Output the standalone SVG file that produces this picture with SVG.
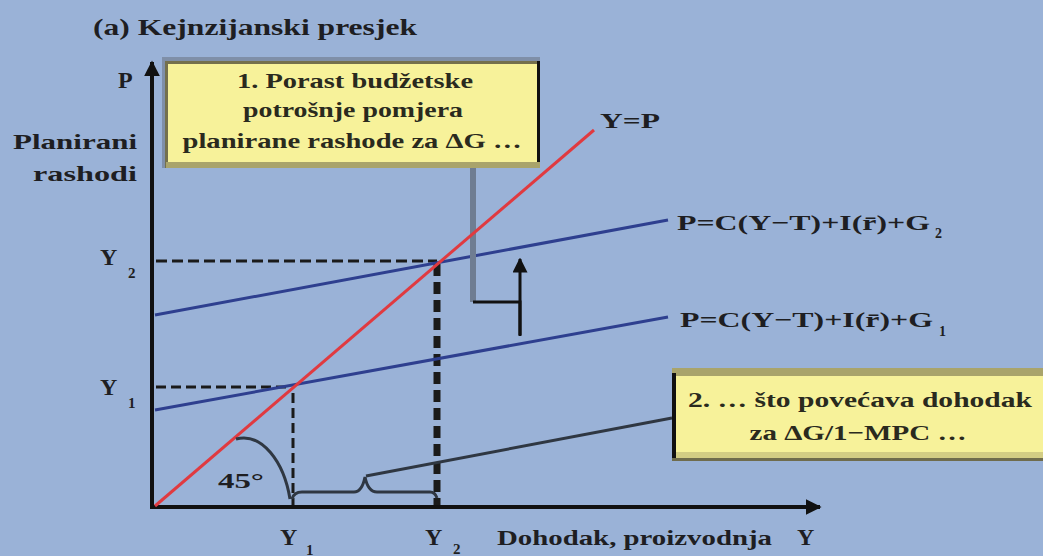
<svg xmlns="http://www.w3.org/2000/svg" width="1043" height="556" viewBox="0 0 1043 556">
<defs>
<style>
.t{font-family:"Liberation Serif","Times New Roman",serif;font-weight:bold;fill:#1e1e22}
.b{font-family:"Liberation Serif","Times New Roman",serif;font-weight:bold;fill:#2a2a1e}
.dash{stroke:#1a1a1a;fill:none}
.ax{stroke:#111;stroke-width:4;fill:none}
</style>
<marker id="ah" viewBox="0 0 10 10" refX="9" refY="5" markerWidth="4" markerHeight="4" orient="auto" markerUnits="strokeWidth">
<path d="M0,0 L10,5 L0,10 Z" fill="#111"/>
</marker>
<marker id="ah2" viewBox="0 0 10 10" refX="9" refY="5" markerWidth="5" markerHeight="5" orient="auto" markerUnits="strokeWidth">
<path d="M0,0 L10,5 L0,10 Z" fill="#111"/>
</marker>
</defs>
<rect width="1043" height="556" fill="#9ab2d7"/>

<g id="title">
<text class="t" x="93" y="35" font-size="24" textLength="324" lengthAdjust="spacingAndGlyphs">(a) Kejnzijanski presjek</text>
</g>

<g id="axes">
<line class="ax" x1="152" y1="508" x2="152" y2="62" marker-end="url(#ah)"/>
<line class="ax" x1="150" y1="507" x2="820" y2="507" marker-end="url(#ah)"/>
<text class="t" x="118" y="88" font-size="24">P</text>
<text class="t" x="13" y="149" font-size="22" textLength="124" lengthAdjust="spacingAndGlyphs">Planirani</text>
<text class="t" x="33" y="181" font-size="22" textLength="104" lengthAdjust="spacingAndGlyphs">rashodi</text>
<text class="t" x="100" y="265" font-size="24">Y</text><text class="t" x="128" y="278" font-size="15">2</text>
<text class="t" x="100" y="395" font-size="24">Y</text><text class="t" x="128" y="408" font-size="15">1</text>
<text class="t" x="280" y="545" font-size="24">Y</text><text class="t" x="306" y="555" font-size="15">1</text>
<text class="t" x="425" y="545" font-size="24">Y</text><text class="t" x="453" y="554" font-size="15">2</text>
<text class="t" x="497" y="545" font-size="22" textLength="275" lengthAdjust="spacingAndGlyphs">Dohodak, proizvodnja</text>
<text class="t" x="797" y="545" font-size="24">Y</text>
</g>

<g id="guides">
<line class="dash" x1="156" y1="261" x2="437" y2="261" stroke-width="3" stroke-dasharray="11,5"/>
<line class="dash" x1="437" y1="264" x2="437" y2="505" stroke-width="7" stroke-dasharray="12,6"/>
<line class="dash" x1="156" y1="387" x2="290" y2="387" stroke-width="3" stroke-dasharray="10,5"/>
<line class="dash" x1="293" y1="393" x2="293" y2="505" stroke-width="3" stroke-dasharray="10,5"/>
</g>

<g id="curve-g2">
<line x1="155" y1="315" x2="668" y2="220" stroke="#2e3f8f" stroke-width="3"/>
<text class="t" x="677" y="230" font-size="22" textLength="253" lengthAdjust="spacingAndGlyphs">P=C(Y−T)+I(r̄)+G</text>
<text class="t" x="935" y="238" font-size="14">2</text>
</g>

<g id="curve-g1">
<line x1="155" y1="410" x2="668" y2="317" stroke="#2e3f8f" stroke-width="3"/>
<text class="t" x="680" y="327" font-size="22" textLength="253" lengthAdjust="spacingAndGlyphs">P=C(Y−T)+I(r̄)+G</text>
<text class="t" x="939" y="336" font-size="14">1</text>
</g>

<g id="connectors">
<line x1="473" y1="168" x2="473" y2="302" stroke="#6f7d92" stroke-width="6"/>
<polyline points="473,302 520,302 520,335" fill="none" stroke="#111" stroke-width="3"/>
<line x1="520" y1="336" x2="520" y2="259" stroke="#111" stroke-width="3" marker-end="url(#ah2)"/>
<path d="M292,499 Q294,492 302,492 L354,492 Q362,492 365,477 Q368,492 377,492 L430,492 Q435,492 437,498" fill="none" stroke="#2f3742" stroke-width="3"/>
<line x1="366" y1="476" x2="672" y2="418" stroke="#2f3742" stroke-width="3"/>
</g>

<g id="line-yp">
<line x1="155" y1="506" x2="594" y2="130" stroke="#e03a40" stroke-width="3"/>
<text class="t" x="600" y="128" font-size="22" textLength="60" lengthAdjust="spacingAndGlyphs">Y=P</text>
</g>

<g id="angle">
<path d="M236,439 C262,432 284,462 290,499" fill="none" stroke="#2f3742" stroke-width="3"/>
<text class="t" x="218" y="488" font-size="22" textLength="46" lengthAdjust="spacingAndGlyphs">45°</text>
</g>

<g id="box1">
<rect x="162" y="57" width="378" height="111" fill="#7f8fa8"/>
<rect x="165" y="61" width="375" height="107" fill="#74704d"/>
<rect x="168" y="64" width="369" height="98" fill="#f7f29a"/>
<rect x="166" y="162" width="374" height="6" fill="#a9a46b"/>
<rect x="537" y="61" width="3" height="101" fill="#111"/>
<text class="b" x="355" y="88" font-size="22" text-anchor="middle" textLength="236" lengthAdjust="spacingAndGlyphs">1. Porast budžetske</text>
<text class="b" x="353" y="117" font-size="22" text-anchor="middle" textLength="220" lengthAdjust="spacingAndGlyphs">potrošnje pomjera</text>
<text class="b" x="352" y="148" font-size="22" text-anchor="middle" textLength="339" lengthAdjust="spacingAndGlyphs">planirane rashode za ΔG …</text>
</g>

<g id="box2">
<rect x="672" y="368" width="371" height="93" fill="#6f6c4d"/>
<rect x="672" y="368" width="371" height="8" fill="#a9a46b"/>
<rect x="676" y="376" width="367" height="76" fill="#f7f29a"/>
<rect x="676" y="452" width="367" height="6" fill="#d3cd84"/>
<rect x="672" y="373" width="4" height="85" fill="#111"/>
<text class="b" x="860" y="407" font-size="22" text-anchor="middle" textLength="344" lengthAdjust="spacingAndGlyphs">2. … što povećava dohodak</text>
<text class="b" x="858" y="440" font-size="22" text-anchor="middle" textLength="217" lengthAdjust="spacingAndGlyphs">za ΔG/1−MPC …</text>
</g>
</svg>
